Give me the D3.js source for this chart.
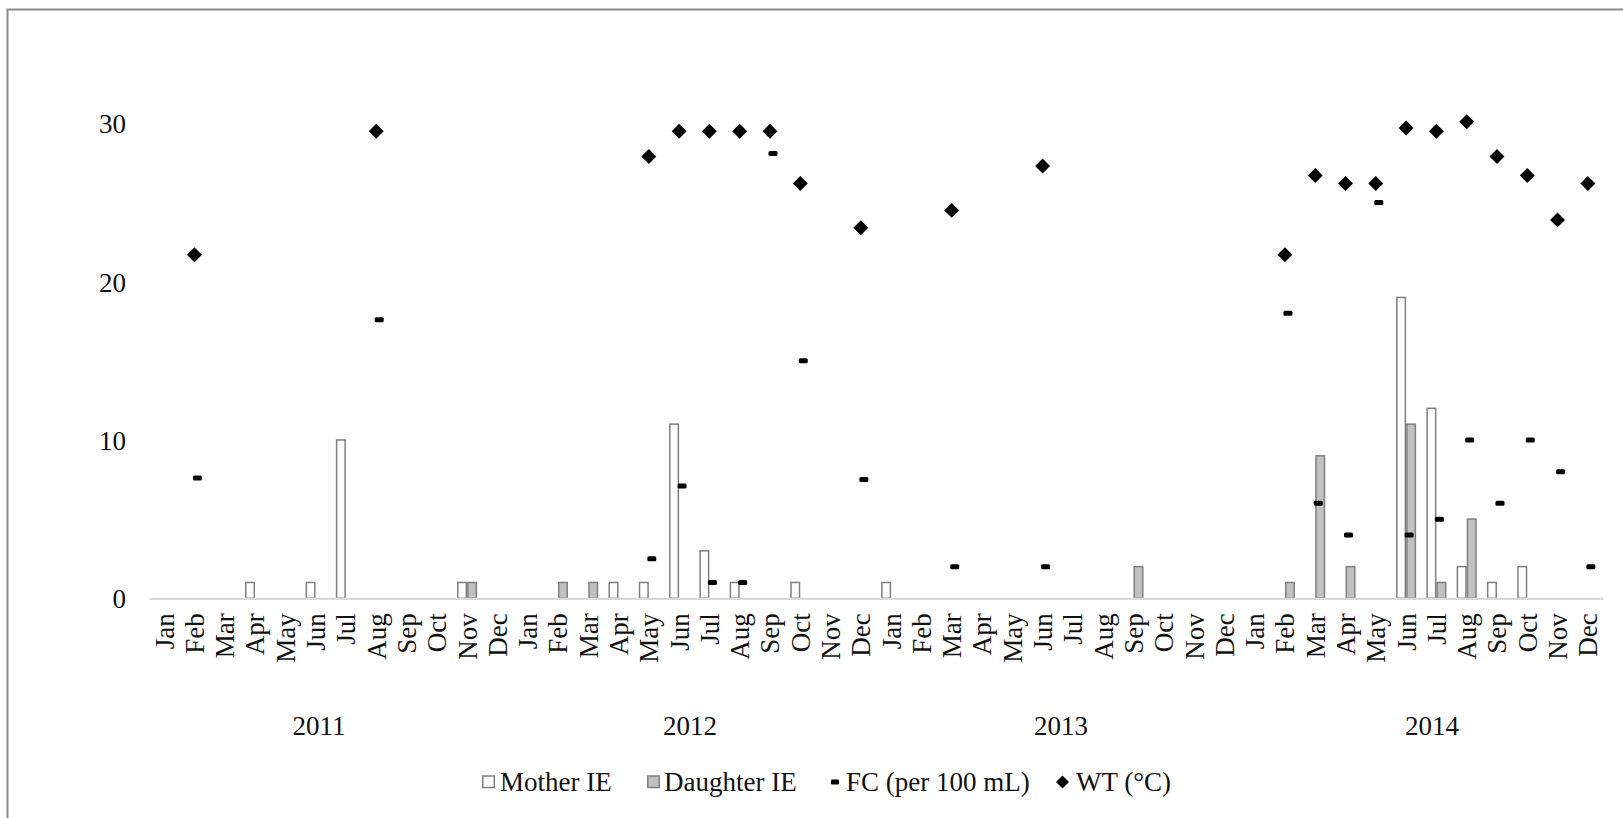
<!DOCTYPE html>
<html>
<head>
<meta charset="utf-8">
<script src="https://cdn.jsdelivr.net/npm/d3@7"></script>
<style>
  html, body { margin: 0; padding: 0; background: #fff; }
  svg { display: block; }
  text { font-family: "Liberation Serif", "Times New Roman", serif; fill: #111; }
</style>
</head>
<body>
<svg id="chart" width="1623" height="818"></svg>
<script>
// Monthly sampling, Jan 2011 – Dec 2014
const years = ["2011", "2012", "2013", "2014"];
const monthNames = ["Jan", "Feb", "Mar", "Apr", "May", "Jun", "Jul", "Aug", "Sep", "Oct", "Nov", "Dec"];

// Mother IE counts (null = none recorded)
const motherIE = [
  null, null, null, 1, null, 1, 10, null, null, null, 1, null,
  null, null, null, 1, 1, 11, 3, 1, null, 1, null, null,
  1, null, null, null, null, null, null, null, null, null, null, null,
  null, null, null, null, null, 19, 12, 2, 1, 2, null, null
];

// Daughter IE counts
const daughterIE = [
  null, null, null, null, null, null, null, null, null, null, 1, null,
  null, 1, 1, null, null, null, null, null, null, null, null, null,
  null, null, null, null, null, null, null, null, 2, null, null, null,
  null, 1, 9, 2, null, 11, 1, 5, null, null, null, null
];

// Faecal coliforms (per 100 mL)
const fcValues = [
  null, 7.6, null, null, null, null, null, 17.6, null, null, null, null,
  null, null, null, null, 2.5, 7.1, 1, 1, 28.1, 15, null, 7.5,
  null, null, 2, null, null, 2, null, null, null, null, null, null,
  null, 18, 6, 4, 25, 4, 5, 10, 6, 10, 8, 2
];

// Water temperature (°C)
const wtValues = [
  null, 21.7, null, null, null, null, null, 29.5, null, null, null, null,
  null, null, null, null, 27.9, 29.5, 29.5, 29.5, 29.5, 26.2, null, 23.4,
  null, null, 24.5, null, null, 27.3, null, null, null, null, null, null,
  null, 21.7, 26.7, 26.2, 26.2, 29.7, 29.5, 30.1, 27.9, 26.7, 23.9, 26.2
];

const yTicks = [0, 10, 20, 30];
const legendLabels = ["Mother IE", "Daughter IE", "FC (per 100 mL)", "WT (°C)"];

// ---------------------------------------------------------------
const months = [];
years.forEach(y => monthNames.forEach(m => months.push({ key: y + "-" + m, year: y, month: m })));
const rows = months.map((m, i) => ({
  ...m,
  mother: motherIE[i],
  daughter: daughterIE[i],
  fc: fcValues[i],
  wt: wtValues[i]
}));

const svg = d3.select("#chart");
const FONT = 27;
const GRAY = "#7f7f7f";

// outer frame of the chart area
svg.append("rect")
  .attr("x", 7.5).attr("y", 9.5)
  .attr("width", 1700).attr("height", 900)
  .attr("fill", "none").attr("stroke", "#8a8a8a").attr("stroke-width", 2);

const x = d3.scaleBand().domain(rows.map(d => d.key)).range([149, 1603]).paddingInner(0).paddingOuter(0);
const xInner = d3.scaleBand().domain(["mother", "daughter"]).range([0, x.bandwidth()]).paddingInner(0).paddingOuter(0.51);
const y = d3.scaleLinear().domain([0, 30]).range([598.3, 123.3]);

// y tick labels (no axis line)
const yAxis = d3.axisLeft(y).tickValues(yTicks).tickSize(0).tickPadding(0).tickFormat(d3.format("d"));
const gy = svg.append("g").attr("transform", "translate(126,0)").call(yAxis);
gy.select(".domain").remove();
gy.selectAll("text")
  .attr("font-size", FONT)
  .attr("font-family", "Liberation Serif, Times New Roman, serif")
  .attr("fill", "#111")
  .attr("dy", "0.35em");

// bars
const barSeries = [
  { key: "mother", fill: "#ffffff" },
  { key: "daughter", fill: "#c0c0c0" }
];
barSeries.forEach(s => {
  svg.append("g").selectAll("rect")
    .data(rows.filter(d => d[s.key] != null))
    .join("rect")
    .attr("x", d => x(d.key) + xInner(s.key) + 0.75)
    .attr("width", xInner.bandwidth() - 1.5)
    .attr("y", d => y(d[s.key]))
    .attr("height", d => y(0) - y(d[s.key]))
    .attr("fill", s.fill)
    .attr("stroke", GRAY)
    .attr("stroke-width", 1.5);
});

// category axis line
const xAxis = d3.axisBottom(x).tickSize(0).tickFormat(k => k.split("-")[1]);
const gx = svg.append("g").attr("transform", "translate(0,598.3)").call(xAxis);
gx.select(".domain").attr("stroke", "#d9d9d9").attr("stroke-width", 2.2);
gx.selectAll("text")
  .attr("font-size", FONT)
  .attr("font-family", "Liberation Serif, Times New Roman, serif")
  .attr("fill", "#111")
  .attr("text-anchor", "end")
  .attr("transform", "rotate(-90)")
  .attr("x", -15)
  .attr("y", 0)
  .attr("dy", "0.35em");

// year labels under the month labels
const yearScale = d3.scalePoint().domain(years).range([319, 1432]);
svg.append("g").selectAll("text")
  .data(years)
  .join("text")
  .attr("x", d => yearScale(d))
  .attr("y", 726)
  .attr("dy", "0.35em")
  .attr("text-anchor", "middle")
  .attr("font-size", FONT)
  .text(d => d);

// FC markers (short dashes)
const dashW = 9, dashH = 5;
svg.append("g").selectAll("rect")
  .data(rows.filter(d => d.fc != null))
  .join("rect")
  .attr("x", d => x(d.key) + x.bandwidth() / 2 + 3 - dashW / 2)
  .attr("y", d => y(d.fc) - dashH / 2)
  .attr("width", dashW).attr("height", dashH)
  .attr("rx", 1.5)
  .attr("fill", "#000");

// WT markers (diamonds)
const diamond = d3.symbol().type(d3.symbolSquare).size(112);
svg.append("g").selectAll("path")
  .data(rows.filter(d => d.wt != null))
  .join("path")
  .attr("d", diamond)
  .attr("transform", d => `translate(${x(d.key) + x.bandwidth() / 2},${y(d.wt)}) rotate(45)`)
  .attr("fill", "#000");

// legend
const legendY = 782;
const legendItems = [
  { label: legendLabels[0], sx: 482, tx: 500, kind: "box", fill: "#ffffff" },
  { label: legendLabels[1], sx: 647, tx: 664, kind: "box", fill: "#c0c0c0" },
  { label: legendLabels[2], sx: 831, tx: 846, kind: "dash" },
  { label: legendLabels[3], sx: 1056, tx: 1076, kind: "diamond" }
];
const lg = svg.append("g");
legendItems.forEach(it => {
  if (it.kind === "box") {
    lg.append("rect")
      .attr("x", it.sx + 0.75).attr("y", legendY - 6)
      .attr("width", 11.5).attr("height", 11.5)
      .attr("fill", it.fill).attr("stroke", GRAY).attr("stroke-width", 1.5);
  } else if (it.kind === "dash") {
    lg.append("rect")
      .attr("x", it.sx).attr("y", legendY - 2.5)
      .attr("width", 8).attr("height", 5).attr("rx", 1.2)
      .attr("fill", "#000");
  } else {
    lg.append("path")
      .attr("d", d3.symbol().type(d3.symbolSquare).size(84)())
      .attr("transform", `translate(${it.sx + 6.5},${legendY}) rotate(45)`)
      .attr("fill", "#000");
  }
  lg.append("text")
    .attr("x", it.tx).attr("y", legendY)
    .attr("dy", "0.35em")
    .attr("font-size", FONT)
    .text(it.label);
});
</script>
</body>
</html>
